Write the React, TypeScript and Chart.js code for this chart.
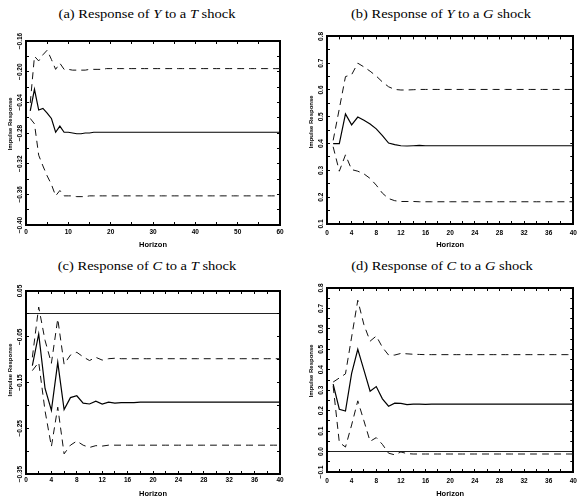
import React, { useEffect, useRef } from 'react';
import { Chart, registerables } from 'chart.js';

Chart.register(...registerables);

const SANS = '"Liberation Sans", Arial, Helvetica, sans-serif';
const SERIF = '"Liberation Serif", "Times New Roman", serif';

// ---------- categories (horizons) ----------
const horizon60 = [
  1, 2, 3, 4, 5, 6, 7, 8, 9, 10, 11, 12, 13, 14, 15, 16, 17, 18, 19, 20,
  21, 22, 23, 24, 25, 26, 27, 28, 29, 30, 31, 32, 33, 34, 35, 36, 37, 38, 39, 40,
  41, 42, 43, 44, 45, 46, 47, 48, 49, 50, 51, 52, 53, 54, 55, 56, 57, 58, 59, 60,
];
const horizon40 = [
  1, 2, 3, 4, 5, 6, 7, 8, 9, 10, 11, 12, 13, 14, 15, 16, 17, 18, 19, 20,
  21, 22, 23, 24, 25, 26, 27, 28, 29, 30, 31, 32, 33, 34, 35, 36, 37, 38, 39, 40,
];

// ---------- (a) Y to T shock ----------
const aIrf = [
  -0.251, -0.223, -0.250, -0.248, -0.254, -0.261, -0.279, -0.271, -0.279, -0.279,
  -0.280, -0.281, -0.281, -0.280, -0.280, -0.279, -0.279, -0.279, -0.279, -0.279,
  -0.279, -0.279, -0.279, -0.279, -0.279, -0.279, -0.279, -0.279, -0.279, -0.279,
  -0.279, -0.279, -0.279, -0.279, -0.279, -0.279, -0.279, -0.279, -0.279, -0.279,
  -0.279, -0.279, -0.279, -0.279, -0.279, -0.279, -0.279, -0.279, -0.279, -0.279,
  -0.279, -0.279, -0.279, -0.279, -0.279, -0.279, -0.279, -0.279, -0.279, -0.279,
];
const aUpper = [
  -0.241, -0.180, -0.186, -0.178, -0.172, -0.184, -0.197, -0.189, -0.197, -0.197,
  -0.198, -0.198, -0.198, -0.198, -0.197, -0.197, -0.197, -0.197, -0.196, -0.196,
  -0.196, -0.196, -0.196, -0.196, -0.196, -0.196, -0.196, -0.196, -0.196, -0.196,
  -0.196, -0.196, -0.196, -0.196, -0.196, -0.196, -0.196, -0.196, -0.196, -0.196,
  -0.196, -0.196, -0.196, -0.196, -0.196, -0.196, -0.196, -0.196, -0.196, -0.196,
  -0.196, -0.196, -0.196, -0.196, -0.196, -0.196, -0.196, -0.196, -0.196, -0.196,
];
const aLower = [
  -0.261, -0.268, -0.309, -0.323, -0.336, -0.347, -0.362, -0.355, -0.362, -0.362,
  -0.362, -0.363, -0.363, -0.363, -0.362, -0.362, -0.362, -0.362, -0.362, -0.362,
  -0.362, -0.362, -0.362, -0.362, -0.362, -0.362, -0.362, -0.362, -0.362, -0.362,
  -0.362, -0.362, -0.362, -0.362, -0.362, -0.362, -0.362, -0.362, -0.362, -0.362,
  -0.362, -0.362, -0.362, -0.362, -0.362, -0.362, -0.362, -0.362, -0.362, -0.362,
  -0.362, -0.362, -0.362, -0.362, -0.362, -0.362, -0.362, -0.362, -0.362, -0.362,
];
const aXTicks = [0, 10, 20, 30, 40, 50, 60];
const aYTicks = [-0.40, -0.36, -0.32, -0.28, -0.24, -0.20, -0.16];

// ---------- (b) Y to G shock ----------
const bIrf = [
  0.400, 0.400, 0.511, 0.470, 0.499, 0.487, 0.473, 0.455, 0.430, 0.402,
  0.396, 0.392, 0.391, 0.392, 0.393, 0.392, 0.392, 0.392, 0.392, 0.392,
  0.392, 0.392, 0.392, 0.392, 0.392, 0.392, 0.392, 0.392, 0.392, 0.392,
  0.392, 0.392, 0.392, 0.392, 0.392, 0.392, 0.392, 0.392, 0.392, 0.392,
];
const bUpper = [
  0.412, 0.530, 0.650, 0.657, 0.700, 0.686, 0.670, 0.652, 0.630, 0.612,
  0.602, 0.600, 0.600, 0.601, 0.602, 0.602, 0.602, 0.602, 0.602, 0.602,
  0.602, 0.602, 0.602, 0.602, 0.602, 0.602, 0.602, 0.602, 0.602, 0.602,
  0.602, 0.602, 0.602, 0.602, 0.602, 0.602, 0.602, 0.602, 0.602, 0.602,
];
const bLower = [
  0.388, 0.297, 0.358, 0.303, 0.297, 0.287, 0.270, 0.245, 0.215, 0.195,
  0.187, 0.184, 0.184, 0.184, 0.183, 0.183, 0.183, 0.183, 0.183, 0.183,
  0.183, 0.183, 0.183, 0.183, 0.183, 0.183, 0.183, 0.183, 0.183, 0.183,
  0.183, 0.183, 0.183, 0.183, 0.183, 0.183, 0.183, 0.183, 0.183, 0.183,
];
const bXTicks = [0, 4, 8, 12, 16, 20, 24, 28, 32, 36, 40];
const bYTicks = [0.1, 0.2, 0.3, 0.4, 0.5, 0.6, 0.7, 0.8];

// ---------- (c) C to T shock ----------
const cIrf = [
  -0.113, -0.044, -0.163, -0.211, -0.106, -0.209, -0.183, -0.179, -0.195, -0.197,
  -0.191, -0.197, -0.193, -0.195, -0.194, -0.194, -0.194, -0.193, -0.193, -0.193,
  -0.193, -0.193, -0.193, -0.193, -0.193, -0.193, -0.193, -0.193, -0.193, -0.193,
  -0.193, -0.193, -0.193, -0.193, -0.193, -0.193, -0.193, -0.193, -0.193, -0.193,
];
const cUpper = [
  -0.095, 0.015, -0.058, -0.108, -0.011, -0.110, -0.090, -0.084, -0.094, -0.102,
  -0.095, -0.101, -0.098, -0.097, -0.098, -0.098, -0.098, -0.098, -0.098, -0.098,
  -0.098, -0.098, -0.098, -0.098, -0.098, -0.098, -0.098, -0.098, -0.098, -0.098,
  -0.098, -0.098, -0.098, -0.098, -0.098, -0.098, -0.098, -0.098, -0.098, -0.098,
];
const cLower = [
  -0.124, -0.106, -0.212, -0.290, -0.204, -0.306, -0.287, -0.278, -0.287, -0.292,
  -0.288, -0.289, -0.287, -0.287, -0.287, -0.287, -0.287, -0.287, -0.287, -0.287,
  -0.287, -0.287, -0.287, -0.287, -0.287, -0.287, -0.287, -0.287, -0.287, -0.287,
  -0.287, -0.287, -0.287, -0.287, -0.287, -0.287, -0.287, -0.287, -0.287, -0.287,
];
const cXTicks = [0, 4, 8, 12, 16, 20, 24, 28, 32, 36, 40];
const cYTicks = [-0.35, -0.25, -0.15, -0.05, 0.05];

// ---------- (d) C to G shock ----------
const dIrf = [
  0.330, 0.207, 0.198, 0.382, 0.500, 0.398, 0.295, 0.318, 0.258, 0.222,
  0.237, 0.236, 0.230, 0.232, 0.232, 0.231, 0.232, 0.232, 0.232, 0.232,
  0.232, 0.232, 0.232, 0.232, 0.232, 0.232, 0.232, 0.232, 0.232, 0.232,
  0.232, 0.232, 0.232, 0.232, 0.232, 0.232, 0.232, 0.232, 0.232, 0.232,
];
const dUpper = [
  0.340, 0.360, 0.380, 0.560, 0.740, 0.620, 0.540, 0.565, 0.510, 0.472,
  0.472, 0.480, 0.478, 0.476, 0.475, 0.474, 0.474, 0.474, 0.474, 0.474,
  0.474, 0.474, 0.474, 0.474, 0.474, 0.474, 0.474, 0.474, 0.474, 0.474,
  0.474, 0.474, 0.474, 0.474, 0.474, 0.474, 0.474, 0.474, 0.474, 0.474,
];
const dLower = [
  0.320, 0.045, 0.022, 0.130, 0.248, 0.150, 0.050, 0.068, 0.035, -0.008,
  -0.016, -0.002, -0.010, -0.012, -0.012, -0.012, -0.012, -0.012, -0.012, -0.012,
  -0.012, -0.012, -0.012, -0.012, -0.012, -0.012, -0.012, -0.012, -0.012, -0.012,
  -0.012, -0.012, -0.012, -0.012, -0.012, -0.012, -0.012, -0.012, -0.012, -0.012,
];
const dXTicks = [0, 4, 8, 12, 16, 20, 24, 28, 32, 36, 40];
const dYTicks = [-0.1, 0.0, 0.1, 0.2, 0.3, 0.4, 0.5, 0.6, 0.7, 0.8];

const xTitleText = 'Horizon';
const yTitleText = 'Impulse Response';

type Box = { x: number; y: number; w: number; h: number };
type Plot = { l: number; t: number; r: number; b: number };
type Panel = {
  id: string;
  canvas: Box;
  plot: Plot;
  horizon: number[];
  irf: number[];
  upper: number[];
  lower: number[];
  xMin: number; xMax: number; xMinor: number; xMajor: number[];
  yMin: number; yMax: number; yMinor: number; yMajor: number[]; yDec: number;
  zero: boolean;
  yLabelX: number; yTitleX: number; yTitleY: number;
  xLabelY: number; xTitleY: number;
};

const panels: Panel[] = [
  {
    id: 'a', canvas: { x: 0, y: 28, w: 292, h: 222 }, plot: { l: 26, t: 41, r: 280, b: 225 },
    horizon: horizon60, irf: aIrf, upper: aUpper, lower: aLower,
    xMin: 0, xMax: 60, xMinor: 5, xMajor: aXTicks,
    yMin: -0.40, yMax: -0.16, yMinor: 0.02, yMajor: aYTicks, yDec: 2, zero: false,
    yLabelX: 20, yTitleX: 10, yTitleY: 124, xLabelY: 232, xTitleY: 245,
  },
  {
    id: 'b', canvas: { x: 292, y: 28, w: 293, h: 222 }, plot: { l: 327, t: 36, r: 578, b: 224 },
    horizon: horizon40, irf: bIrf, upper: bUpper, lower: bLower,
    xMin: 0, xMax: 40, xMinor: 2, xMajor: bXTicks,
    yMin: 0.1, yMax: 0.8, yMinor: 0.05, yMajor: bYTicks, yDec: 1, zero: false,
    yLabelX: 321, yTitleX: 311, yTitleY: 122, xLabelY: 233, xTitleY: 245,
  },
  {
    id: 'c', canvas: { x: 0, y: 276, w: 292, h: 222 }, plot: { l: 26, t: 291, r: 280, b: 474 },
    horizon: horizon40, irf: cIrf, upper: cUpper, lower: cLower,
    xMin: 0, xMax: 40, xMinor: 2, xMajor: cXTicks,
    yMin: -0.35, yMax: 0.05, yMinor: 0.05, yMajor: cYTicks, yDec: 2, zero: true,
    yLabelX: 20, yTitleX: 10, yTitleY: 370, xLabelY: 480, xTitleY: 494,
  },
  {
    id: 'd', canvas: { x: 292, y: 276, w: 293, h: 222 }, plot: { l: 327, t: 288, r: 578, b: 472 },
    horizon: horizon40, irf: dIrf, upper: dUpper, lower: dLower,
    xMin: 0, xMax: 40, xMinor: 2, xMajor: dXTicks,
    yMin: -0.1, yMax: 0.8, yMinor: 0.05, yMajor: dYTicks, yDec: 1, zero: true,
    yLabelX: 321, yTitleX: 311, yTitleY: 371, xLabelY: 481, xTitleY: 494,
  },
];

function stepTicks(min: number, max: number, step: number): number[] {
  const n = Math.round((max - min) / step);
  const out: number[] = [];
  for (let i = 0; i <= n; i++) out.push(Number((min + i * step).toFixed(6)));
  return out;
}

function fmt(v: number, d: number): string {
  const s = Math.abs(v).toFixed(d);
  return (v < -1e-9 ? '\u2212' : '') + s;
}

function isMajor(list: number[], v: number): boolean {
  return list.some((m) => Math.abs(m - v) < 1e-7);
}

const TICK_SIZE = 6.5;

function PanelChart({ p }: { p: Panel }) {
  const ref = useRef<HTMLCanvasElement>(null);

  useEffect(() => {
    const canvas = ref.current;
    if (!canvas) return;

    const TL = -3;
    const meas = document.createElement('canvas').getContext('2d')!;
    meas.font = `bold ${TICK_SIZE}px ${SANS}`;
    const widest = Math.max(...p.yMajor.map((v) => meas.measureText(fmt(v, p.yDec)).width));
    meas.font = `bold 6px ${SANS}`;
    const spaceW = meas.measureText(' ').width || 1.67;

    const L = p.plot.l - p.canvas.x;
    const T = p.plot.t - p.canvas.y;
    const R = p.plot.r - p.canvas.x;
    const B = p.plot.b - p.canvas.y;
    const tickLH = TICK_SIZE * 1.2;

    const yPad = p.plot.l - TL - widest / 2 - p.yLabelX;
    const xPad = p.xLabelY - p.plot.b - TL - tickLH / 2;
    const xTitlePad = Math.max(0, p.canvas.y + p.canvas.h - p.xTitleY - 4.5);
    const yTitlePad = p.yTitleX - p.canvas.x - 3.6;
    const shift = (p.plot.t + p.plot.b) / 2 - p.yTitleY;
    const nSpaces = Math.max(0, Math.round((2 * shift) / spaceW));
    const yTitle = ' '.repeat(nSpaces) + yTitleText;

    const xT = stepTicks(p.xMin, p.xMax, p.xMinor);
    const yT = stepTicks(p.yMin, p.yMax, p.yMinor);

    const tickFont = { family: SANS, size: TICK_SIZE, weight: 'bold' as const };
    const border = { display: true, color: '#000', width: 2 };
    const sideGrid = { drawOnChartArea: false, drawTicks: true, tickLength: TL, tickColor: '#000', tickWidth: 1 };

    const pts = (arr: number[]) => arr.map((v, i) => ({ x: p.horizon[i], y: v }));
    const line = (arr: number[], dashed: boolean) => ({
      data: pts(arr),
      borderColor: dashed ? '#111' : '#000',
      borderWidth: dashed ? 1 : 1.2,
      borderDash: dashed ? [7, 5] : [],
      pointRadius: 0,
      tension: 0,
      fill: false,
    });

    const chart = new Chart(canvas, {
      type: 'line',
      data: { datasets: [line(p.upper, true), line(p.irf, false), line(p.lower, true)] },
      options: {
        animation: false,
        responsive: false,
        maintainAspectRatio: false,
        layout: { padding: { left: 0, top: T, right: p.canvas.w - R, bottom: 0 } },
        plugins: { legend: { display: false }, tooltip: { enabled: false }, title: { display: false } },
        scales: {
          x: {
            type: 'linear', position: 'bottom', min: p.xMin, max: p.xMax,
            afterBuildTicks: (s: any) => { s.ticks = xT.map((v) => ({ value: v })); },
            ticks: {
              autoSkip: false, minRotation: 0, maxRotation: 0, padding: xPad, font: tickFont, color: '#000',
              callback: (v: any) => (isMajor(p.xMajor, Number(v)) ? String(Math.round(Number(v))) : ''),
            },
            grid: sideGrid,
            border,
            title: {
              display: true, text: xTitleText, color: '#000',
              font: { family: SANS, size: 7.5, weight: 'bold' },
              padding: { top: 0, bottom: xTitlePad },
            },
            afterFit: (s: any) => { s.height = p.canvas.h - B; },
          },
          x2: {
            type: 'linear', position: 'top', min: p.xMin, max: p.xMax,
            afterBuildTicks: (s: any) => { s.ticks = xT.map((v) => ({ value: v })); },
            ticks: { display: false },
            grid: sideGrid,
            border,
            afterFit: (s: any) => { s.height = 0; },
          },
          y: {
            type: 'linear', position: 'left', min: p.yMin, max: p.yMax,
            afterBuildTicks: (s: any) => { s.ticks = yT.map((v) => ({ value: v })); },
            ticks: {
              autoSkip: false, minRotation: 90, maxRotation: 90, crossAlign: 'center', padding: yPad,
              font: tickFont, color: '#000',
              callback: (v: any) => (isMajor(p.yMajor, Number(v)) ? fmt(Number(v), p.yDec) : ''),
            },
            grid: {
              drawOnChartArea: true, drawTicks: true, tickLength: TL, tickColor: '#000', tickWidth: 1,
              lineWidth: 1,
              color: (ctx: any) =>
                p.zero && ctx.tick && Math.abs(ctx.tick.value) < 1e-9 ? '#222' : 'rgba(0,0,0,0)',
            },
            border,
            title: {
              display: true, text: yTitle, color: '#000',
              font: { family: SANS, size: 6, weight: 'bold' },
              padding: { top: yTitlePad, bottom: 0 },
            },
            afterFit: (s: any) => { s.width = L; },
          },
          y2: {
            type: 'linear', position: 'right', min: p.yMin, max: p.yMax,
            afterBuildTicks: (s: any) => { s.ticks = yT.map((v) => ({ value: v })); },
            ticks: { display: false },
            grid: sideGrid,
            border,
            afterFit: (s: any) => { s.width = 0; },
          },
        },
      } as any,
    });

    return () => { chart.destroy(); };
  }, [p]);

  return (
    <canvas
      ref={ref}
      width={p.canvas.w}
      height={p.canvas.h}
      style={{
        position: 'absolute', left: p.canvas.x, top: p.canvas.y,
        width: p.canvas.w, height: p.canvas.h, display: 'block',
      }}
    />
  );
}

const titleStyle = (x: number, y: number): React.CSSProperties => ({
  position: 'absolute', left: x, top: y,
  transform: 'translate(-50%, -50%) scaleY(0.85)',
  fontFamily: SERIF, fontSize: 14.5, whiteSpace: 'nowrap', color: '#000', lineHeight: 1,
});

export default function App() {
  return (
    <div style={{ position: 'absolute', left: 0, top: 0, width: 585, height: 498, background: '#fff', overflow: 'hidden' }}>
      <div style={titleStyle(147, 14)}>(a) Response of <i>Y</i> to a <i>T</i> shock</div>
      <div style={titleStyle(441, 14)}>(b) Response of <i>Y</i> to a <i>G</i> shock</div>
      <div style={titleStyle(147, 266)}>(c) Response of <i>C</i> to a <i>T</i> shock</div>
      <div style={titleStyle(442, 266)}>(d) Response of <i>C</i> to a <i>G</i> shock</div>
      {panels.map((p) => (
        <PanelChart key={p.id} p={p} />
      ))}
    </div>
  );
}
